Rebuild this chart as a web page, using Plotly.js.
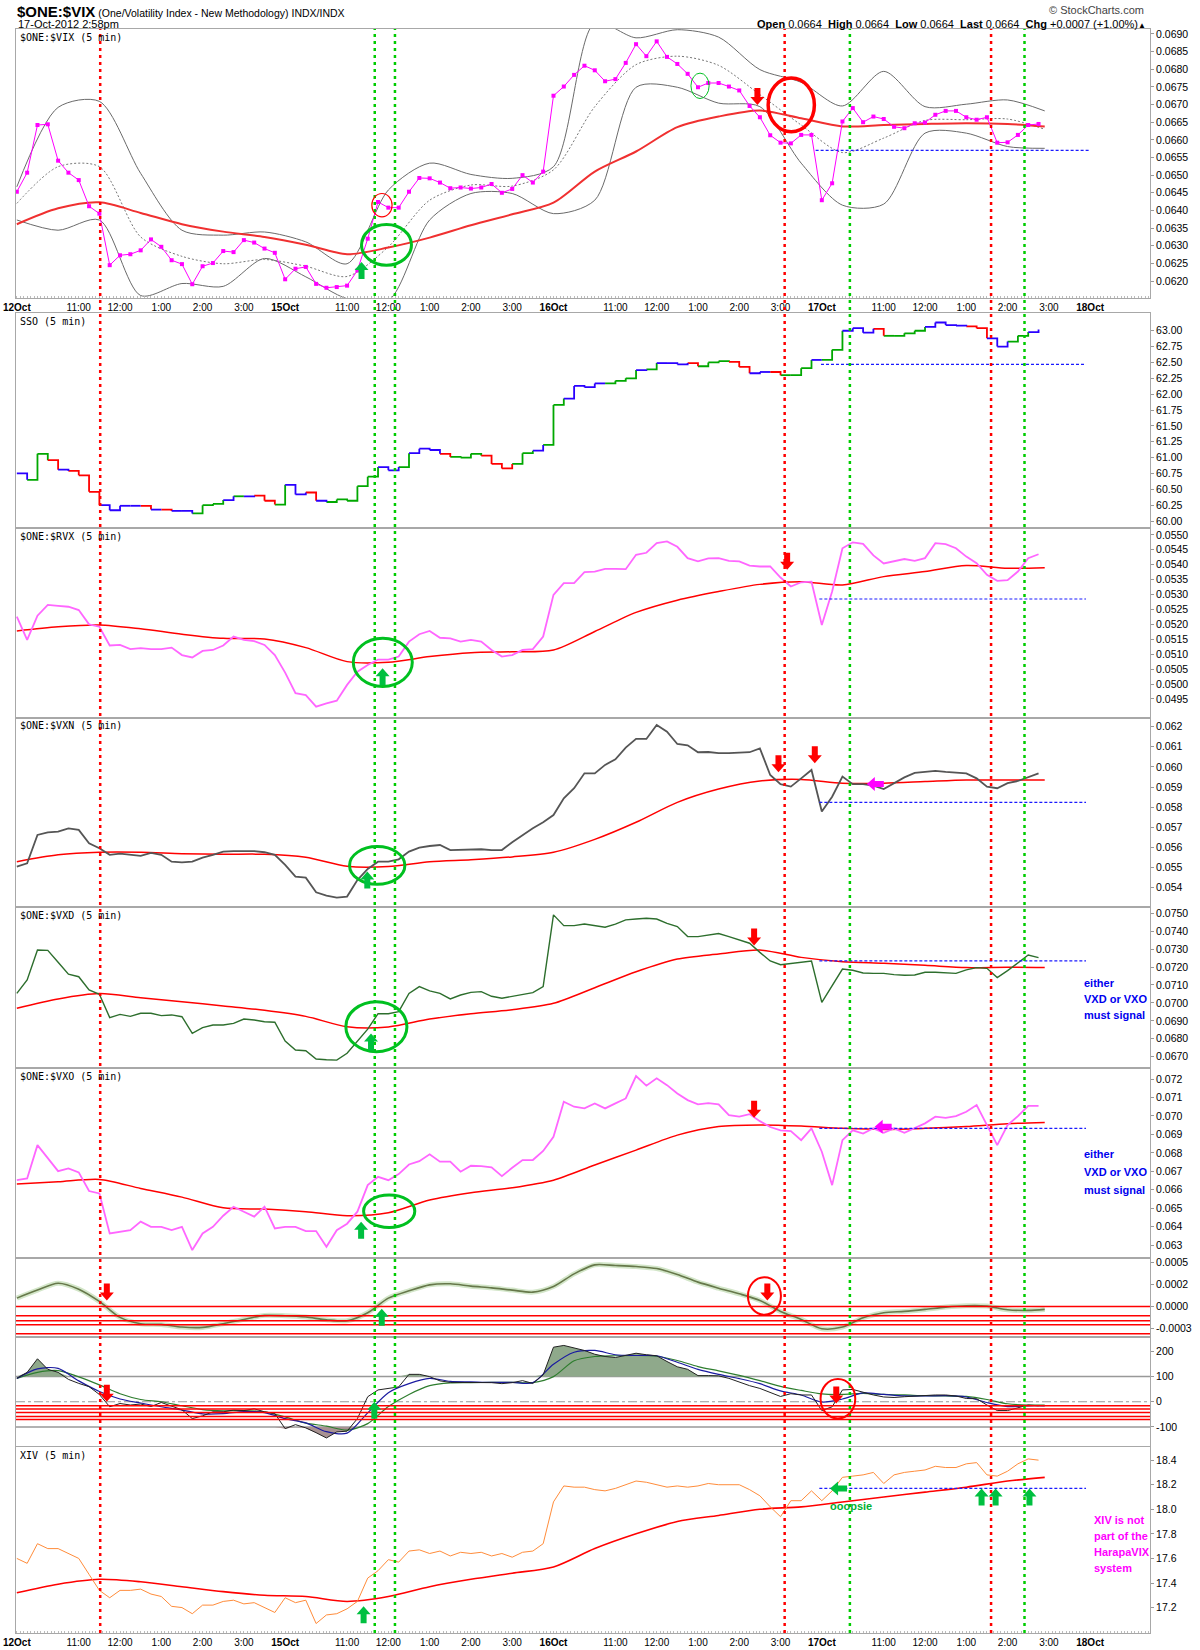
<!DOCTYPE html>
<html><head><meta charset="utf-8">
<script src="https://cdn.plot.ly/plotly-3.0.1.min.js"></script>
<style>html,body{margin:0;padding:0;background:#fff}</style>
</head><body><div id="chart" style="width:1200px;height:1650px"></div>
<script>
// ---------- DATA (time axis: trading hours since 12-Oct 9:30, 6.5 h per session) ----------
const VIX = [0.06453,0.06507,0.06642,0.06644,0.06541,0.06507,0.06486,0.06412,0.06391,0.06245,
 0.06273,0.06276,0.06287,0.06318,0.06297,0.06259,0.06248,0.06191,0.06242,0.06251,
 0.06285,0.06282,0.06316,0.06309,0.06292,0.06280,0.06205,0.06235,0.06240,0.06192,
 0.06181,0.06183,0.06187,0.06230,0.06320,0.06424,0.06408,0.06408,0.06453,0.06492,
 0.06491,0.06479,0.06463,0.06465,0.06462,0.06465,0.06475,0.06450,0.06461,0.06500,
 0.06479,0.06510,0.06725,0.06751,0.06784,0.06810,0.06797,0.06766,0.06772,0.06818,
 0.06871,0.06837,0.06879,0.06835,0.06815,0.06787,0.06749,0.06761,0.06761,0.06751,
 0.06740,0.06696,0.06664,0.06613,0.06592,0.06590,0.06614,0.06614,0.06429,0.06477,
 0.06652,0.06690,0.06650,0.06666,0.06659,0.06637,0.06633,0.06647,0.06649,0.06671,
 0.06682,0.06682,0.06664,0.06657,0.06664,0.06592,0.06593,0.06614,0.06642,0.06645];
const VIX_MA = [0.06361,0.06406,0.06423,0.06393,0.06361,0.06340,0.06325,0.06303,0.06276,0.06295,0.06323,0.06358,0.06389,0.06422,0.06510,0.06567,0.06636,0.06666,0.06683,0.06661,0.06638,0.06642,0.06645,0.06647,0.06645,0.06638];
const VIX_UPPER = [0.06467,0.06692,0.06709,0.06505,0.06344,0.06330,0.06339,0.06311,0.06249,0.06458,0.06534,0.06502,0.06491,0.06524,0.06931,0.06889,0.06912,0.06891,0.06799,0.06763,0.06696,0.06794,0.06694,0.06701,0.06713,0.06682];
const VIX_MID = [0.06420,0.06524,0.06524,0.06325,0.06270,0.06249,0.06261,0.06242,0.06213,0.06297,0.06429,0.06472,0.06469,0.06515,0.06694,0.06813,0.06837,0.06811,0.06728,0.06642,0.06564,0.06605,0.06655,0.06657,0.06659,0.06630];
const VIX_LOWER = [0.06373,0.06344,0.06373,0.06159,0.06193,0.06185,0.06264,0.06212,0.06150,0.06145,0.06373,0.06448,0.06448,0.06391,0.06429,0.06749,0.06749,0.06704,0.06694,0.06534,0.06415,0.06418,0.06619,0.06619,0.06581,0.06576];

const SSO = [60.75,60.65,61.06,60.96,60.81,60.79,60.72,60.46,60.25,60.17,
 60.24,60.24,60.24,60.18,60.18,60.16,60.16,60.12,60.25,60.27,
 60.33,60.39,60.39,60.40,60.32,60.26,60.57,60.42,60.45,60.32,
 60.30,60.34,60.32,60.55,60.70,60.85,60.80,60.85,61.07,61.14,
 61.12,61.06,61.01,61.00,61.06,61.03,60.90,60.83,60.90,61.07,
 61.11,61.20,61.83,61.93,62.13,62.11,62.17,62.17,62.21,62.25,
 62.38,62.39,62.49,62.49,62.47,62.49,62.44,62.50,62.52,62.51,
 62.43,62.33,62.35,62.35,62.30,62.30,62.41,62.54,62.54,62.70,
 63.00,63.04,62.97,63.03,62.92,62.92,62.96,63.00,63.06,63.13,
 63.09,63.08,63.07,63.04,62.88,62.75,62.83,62.92,62.98,63.02];
const SSO_CLASS = ("bbggrbrrrb"+"bbbrbrbbgg"+"gbgbrrgbbr"+"bgggggbbgb"+"bbrgggrrrg"+
 "gbggbbbbgg"+"gbgbbbrggg"+"rrbbrgggbg"+"gbbbrggggb"+"bbbrrbbggb").split("");

const RVX = [0.05226,0.05148,0.05229,0.05265,0.05262,0.05259,0.05248,0.05200,0.05192,0.05129,
 0.05131,0.05117,0.05120,0.05117,0.05117,0.05122,0.05097,0.05089,0.05111,0.05114,
 0.05129,0.05159,0.05148,0.05144,0.05131,0.05097,0.05038,0.04969,0.04963,0.04924,
 0.04935,0.04944,0.04997,0.05041,0.05064,0.05082,0.05082,0.05092,0.05142,0.05167,
 0.05178,0.05155,0.05153,0.05142,0.05148,0.05142,0.05114,0.05092,0.05097,0.05114,
 0.05117,0.05159,0.05299,0.05338,0.05338,0.05375,0.05377,0.05386,0.05386,0.05385,
 0.05433,0.05440,0.05472,0.05478,0.05460,0.05422,0.05411,0.05421,0.05422,0.05413,
 0.05411,0.05397,0.05394,0.05394,0.05357,0.05327,0.05341,0.05343,0.05198,0.05310,
 0.05455,0.05475,0.05470,0.05431,0.05404,0.05411,0.05419,0.05413,0.05422,0.05472,
 0.05469,0.05455,0.05427,0.05405,0.05366,0.05346,0.05348,0.05377,0.05422,0.05435];
const RVX_MA = [0.05178,0.05192,0.05198,0.05185,0.05167,0.05153,0.05151,0.05122,0.05075,0.05073,0.05092,0.05105,0.05108,0.05114,0.05176,0.05240,0.05281,0.05310,0.05334,0.05343,0.05332,0.05360,0.05377,0.05397,0.05388,0.05390];

const VXN = [0.05505,0.05521,0.05662,0.05675,0.05678,0.05695,0.05687,0.05621,0.05596,0.05563,
 0.05569,0.05563,0.05558,0.05573,0.05563,0.05529,0.05526,0.05529,0.05549,0.05563,
 0.05579,0.05582,0.05582,0.05582,0.05576,0.05563,0.05513,0.05455,0.05450,0.05377,
 0.05361,0.05351,0.05356,0.05438,0.05493,0.05529,0.05529,0.05541,0.05579,0.05599,
 0.05607,0.05612,0.05587,0.05589,0.05591,0.05591,0.05587,0.05587,0.05626,0.05662,
 0.05695,0.05725,0.05761,0.05844,0.05894,0.05968,0.05968,0.06010,0.06038,0.06096,
 0.06139,0.06139,0.06208,0.06175,0.06114,0.06107,0.06073,0.06074,0.06068,0.06068,
 0.06071,0.06073,0.06092,0.05960,0.05914,0.05902,0.05943,0.05985,0.05778,0.05852,
 0.05952,0.05914,0.05914,0.05907,0.05890,0.05919,0.05948,0.05970,0.05976,0.05980,
 0.05975,0.05973,0.05968,0.05943,0.05902,0.05894,0.05919,0.05930,0.05950,0.05968];
const VXN_MA = [0.05529,0.05563,0.05576,0.05576,0.05569,0.05566,0.05566,0.05551,0.05506,0.05505,0.05529,0.05539,0.05553,0.05576,0.05640,0.05725,0.05824,0.05890,0.05930,0.05938,0.05919,0.05919,0.05927,0.05935,0.05935,0.05935];

const VXD = [0.07053,0.07128,0.07295,0.07293,0.07227,0.07160,0.07146,0.07072,0.07048,0.06918,
 0.06936,0.06925,0.06942,0.06942,0.06929,0.06933,0.06923,0.06830,0.06862,0.06877,
 0.06877,0.06886,0.06910,0.06905,0.06895,0.06892,0.06787,0.06737,0.06733,0.06687,
 0.06683,0.06681,0.06719,0.06784,0.06854,0.06940,0.06940,0.06951,0.07053,0.07091,
 0.07067,0.07053,0.07022,0.07044,0.07059,0.07063,0.07037,0.07026,0.07035,0.07048,
 0.07057,0.07091,0.07491,0.07431,0.07431,0.07440,0.07431,0.07422,0.07439,0.07463,
 0.07468,0.07472,0.07468,0.07444,0.07426,0.07370,0.07370,0.07379,0.07387,0.07370,
 0.07351,0.07333,0.07282,0.07234,0.07213,0.07221,0.07230,0.07234,0.07003,0.07100,
 0.07189,0.07182,0.07167,0.07165,0.07165,0.07158,0.07154,0.07156,0.07171,0.07171,
 0.07167,0.07165,0.07184,0.07197,0.07193,0.07141,0.07180,0.07221,0.07267,0.07253];
const VXD_MA = [0.06970,0.07022,0.07052,0.07029,0.07007,0.06983,0.06959,0.06925,0.06867,0.06866,0.06910,0.06940,0.06962,0.06998,0.07085,0.07174,0.07245,0.07273,0.07295,0.07254,0.07230,0.07221,0.07210,0.07197,0.07199,0.07197];

const VXO = [0.06652,0.06661,0.06842,0.06770,0.06701,0.06716,0.06694,0.06593,0.06580,0.06363,
 0.06372,0.06381,0.06427,0.06399,0.06399,0.06381,0.06399,0.06273,0.06363,0.06399,
 0.06459,0.06508,0.06481,0.06454,0.06508,0.06390,0.06399,0.06399,0.06376,0.06376,
 0.06291,0.06381,0.06416,0.06481,0.06625,0.06670,0.06652,0.06685,0.06737,0.06755,
 0.06792,0.06752,0.06752,0.06698,0.06730,0.06728,0.06721,0.06674,0.06719,0.06761,
 0.06761,0.06810,0.06887,0.07077,0.07050,0.07041,0.07068,0.07041,0.07068,0.07095,
 0.07216,0.07164,0.07204,0.07167,0.07122,0.07086,0.07063,0.07070,0.07063,0.07005,
 0.06996,0.07010,0.06972,0.06940,0.06922,0.06918,0.06869,0.06933,0.06806,0.06625,
 0.06869,0.06922,0.06905,0.06933,0.06909,0.06933,0.06909,0.06936,0.06960,0.06996,
 0.06990,0.06999,0.07023,0.07059,0.06951,0.06842,0.06951,0.06999,0.07055,0.07055];
const VXO_MA = [0.06631,0.06643,0.06656,0.06607,0.06560,0.06502,0.06495,0.06481,0.06459,0.06475,0.06544,0.06584,0.06611,0.06652,0.06734,0.06815,0.06896,0.06943,0.06951,0.06945,0.06933,0.06927,0.06933,0.06943,0.06958,0.06965];

const OSC = [0.0000947,0.000186,0.000265,0.000197,0.0000568,-0.000125,-0.000197,-0.000205,-0.000235,-0.000239,
 -0.000197,-0.000148,-0.000102,-0.000106,-0.000121,-0.000152,-0.000163,-0.000072,0.0000947,0.000178,
 0.000246,0.000258,0.000231,0.000212,0.000186,0.000163,0.000227,0.000371,0.000474,0.000466,
 0.000455,0.000432,0.000364,0.000277,0.000208,0.000144,0.0000682,-0.0000568,-0.000148,-0.000254,
 -0.000235,-0.000129,-0.000072,-0.0000568,-0.0000341,-0.0000076,0.0000076,0.0000038,-0.0000379,-0.0000455,-0.0000341];

const HIST = [93,117,171,129,117,89,73,60,29,-20,
 -7,-13,-9,-19,-3,-16,-32,-67,-56,-40,
 -40,-33,-35,-28,-40,-47,-107,-91,-104,-123,
 -144,-120,-117,-67,20,47,52,59,109,109,
 100,83,77,77,76,76,76,72,76,84,
 73,107,217,224,213,204,189,180,176,183,
 193,187,183,160,139,129,104,104,103,93,
 77,64,53,36,21,32,27,27,-35,-20,
 47,49,37,27,19,17,20,23,24,27,
 27,23,13,12,-13,-35,-35,-23,-13,-16];
const HIST_FAST = [93,131,133,83,41,11,-5,-20,-33,-48,-47,-39,-43,-67,-84,-119,-125,-44,36,72,93,81,79,77,77,76,149,197,204,187,184,183,157,129,109,92,72,43,27,-1,11,35,29,23,23,24,19,-3,-19,-16,-16];
const HIST_SLOW = [93,117,124,99,67,32,9,0,-16,-31,-36,-35,-40,-60,-85,-97,-113,-87,-19,29,64,75,76,77,77,76,100,163,180,183,184,181,164,140,123,105,84,61,45,31,29,33,29,27,24,23,21,9,-8,-13,-13];

const XIV = [17.60,17.56,17.72,17.68,17.68,17.64,17.60,17.47,17.34,17.28,
 17.34,17.34,17.35,17.31,17.29,17.21,17.20,17.15,17.22,17.22,
 17.25,17.26,17.23,17.24,17.20,17.16,17.28,17.24,17.26,17.07,
 17.14,17.15,17.19,17.25,17.44,17.50,17.59,17.57,17.66,17.67,
 17.64,17.66,17.62,17.65,17.64,17.65,17.62,17.64,17.61,17.65,
 17.66,17.72,18.06,18.19,18.18,18.18,18.16,18.15,18.17,18.20,
 18.23,18.22,18.20,18.18,18.19,18.18,18.19,18.21,18.20,18.20,
 18.20,18.16,18.11,18.02,17.94,18.07,18.07,18.15,18.07,18.15,
 18.26,18.27,18.28,18.30,18.21,18.28,18.30,18.31,18.32,18.35,
 18.34,18.34,18.37,18.38,18.28,18.27,18.31,18.37,18.41,18.40];
const XIV_MA = [17.32,17.39,17.43,17.41,17.37,17.33,17.30,17.29,17.25,17.29,17.37,17.43,17.48,17.53,17.68,17.80,17.90,17.95,18.00,18.02,18.06,18.10,18.14,18.18,18.23,18.26];

// time grids (5-min bars sampled every 15 min; smooth lines hourly / half-hourly)
const T = VIX.map((_, i) => i * 0.25);
const HOURS = [0,1,2,3,4,5,6,7,8,9,10,11,12,13,14,15,16,17,18,19,20,21,22,23,24,24.9];
const HALF = Array.from({length: 50}, (_, i) => i * 0.5).concat([24.9]);

// x tick labels
const X_TICKS = [0,1.5,2.5,3.5,4.5,5.5,6.5,8,9,10,11,12,13,14.5,15.5,16.5,17.5,18.5,19.5,21,22,23,24,25,26];
const X_LABELS = ['12Oct','11:00','12:00','1:00','2:00','3:00','15Oct','11:00','12:00','1:00','2:00','3:00',
 '16Oct','11:00','12:00','1:00','2:00','3:00','17Oct','11:00','12:00','1:00','2:00','3:00','18Oct'];

// signal lines (times)
const RED_SIGNALS = [2.02, 18.60, 23.60];
const GREEN_SIGNALS = [8.67, 9.16, 20.18, 24.41];

// header quote
const QUOTE = {open: '0.0664', high: '0.0664', low: '0.0664', last: '0.0664', chg: '+0.0007', pct: '+1.00%'};

// annotation marks: [panel, x0, x1, y0, y1, kind]
const RINGS = [
 [1, 8.60, 9.09, 0.06382, 0.06448, 'r1'], [1, 8.35, 9.56, 0.06245, 0.06360, 'g'],
 [1, 16.33, 16.77, 0.06717, 0.06789, 'g1'], [1, 18.20, 19.32, 0.06623, 0.06775, 'R'],
 [3, 8.15, 9.58, 0.04992, 0.05153, 'g'], [4, 8.06, 9.40, 0.05417, 0.05604, 'g'],
 [5, 7.97, 9.45, 0.06728, 0.07007, 'g'], [6, 8.40, 9.64, 0.06396, 0.06571, 'g'],
 [7, 17.71, 18.51, -0.0000947, 0.000333, 'r'], [8, 19.47, 20.31, -66.7, 90.7, 'r']];
// arrows: [panel, x, y(tip), direction, colour key]
const ARROWS = [
 [1, 8.35, 0.06254, 'up', 'g'], [1, 17.94, 0.06699, 'down', 'r'],
 [3, 8.86, 0.05053, 'up', 'g'], [3, 18.66, 0.05383, 'down', 'r'],
 [4, 8.49, 0.05480, 'up', 'g'], [4, 18.45, 0.05973, 'down', 'r'], [4, 19.33, 0.06018, 'down', 'r'], [4, 20.59, 0.05915, 'left', 'm'],
 [5, 8.58, 0.06830, 'up', 'g'], [5, 17.86, 0.07320, 'down', 'r'],
 [6, 8.34, 0.06427, 'up', 'g'], [6, 17.86, 0.06990, 'down', 'r'], [6, 20.78, 0.06942, 'left', 'm'],
 [7, 2.18, 0.0000682, 'down', 'r'], [7, 8.84, -0.0000265, 'up', 'g'], [7, 18.18, 0.0000682, 'down', 'r'],
 [8, 2.18, 0, 'down', 'r'], [8, 8.66, 0, 'up', 'g'], [8, 19.85, -6.7, 'down', 'r'],
 [9, 8.40, 17.21, 'up', 'g'], [9, 19.70, 18.17, 'left', 'g'], [9, 23.37, 18.17, 'up', 'g'], [9, 23.71, 18.17, 'up', 'g'], [9, 24.53, 18.17, 'up', 'g']];
// support levels: [panel, level, from, to]
const LEVELS = [[1, 0.06570, 19.35, 25.98], [2, 62.47, 19.48, 25.9], [3, 0.05285, 19.44, 25.9],
 [4, 0.05824, 19.44, 25.9], [5, 0.07234, 19.44, 25.9], [6, 0.06933, 19.44, 25.9], [9, 18.17, 19.44, 25.9]];
const OSC_BANDS = [0, -0.000106, -0.000163, -0.000208, -0.000311];
const HIST_BANDS = [-16, -29, -43, -59, -71];

// ---------- LAYOUT ----------
const W = 1200, H = 1650;
const PX_L = 16, PX_R = 1150;
const FONT = 'Liberation Sans, Arial, sans-serif';
function ticksRange(a, b, n, dec, scale) { const v = []; for (let i = a; i <= b; i += n) v.push(i / scale); return {vals: v, text: v.map(x => x.toFixed(dec))}; }
const PANELS = [
 {top: 29, bot: 298, range: [0.06152, 0.06914], t: ticksRange(620, 690, 5, 4, 10000), label: '$ONE:$VIX (5 min)'},
 {top: 313, bot: 528, range: [59.89, 63.28], t: ticksRange(6000, 6300, 25, 2, 100), label: 'SSO (5 min)'},
 {top: 528, bot: 718, range: [0.04886, 0.05523], t: ticksRange(495, 550, 5, 4, 10000), label: '$ONE:$RVX (5 min)'},
 {top: 718, bot: 907, range: [0.05304, 0.06243], t: ticksRange(54, 62, 1, 3, 1000), label: '$ONE:$VXN (5 min)'},
 {top: 907, bot: 1068, range: [0.06637, 0.07535], t: ticksRange(67, 75, 1, 4, 1000), label: '$ONE:$VXD (5 min)'},
 {top: 1068, bot: 1258, range: [0.06230, 0.07260], t: ticksRange(63, 72, 1, 3, 1000), label: '$ONE:$VXO (5 min)'},
 {top: 1258, bot: 1336, range: [-0.000337, 0.000552], t: {vals: [-0.00025, 0, 0.00025, 0.0005], text: ['-0.0003', '0.0000', '0.0002', '0.0005']}, label: ''},
 {top: 1338, bot: 1446, range: [-176, 253.6], t: {vals: [-100, 0, 100, 200], text: ['-100', '0', '100', '200']}, label: ''},
 {top: 1447, bot: 1633, range: [16.993, 18.507], t: ticksRange(172, 184, 2, 1, 10), label: 'XIV (5 min)'}
];
const ax = k => (k === 1 ? '' : String(k));

const layout = {
 width: W, height: H, margin: {l: 0, r: 0, t: 0, b: 0},
 paper_bgcolor: '#fff', plot_bgcolor: '#fff', showlegend: false,
 shapes: [], annotations: [], font: {family: FONT, size: 10, color: '#000'}
};
PANELS.forEach((p, idx) => {
 const k = idx + 1;
 const showX = (k === 1 || k === 9);
 layout['xaxis' + ax(k)] = {
  domain: [PX_L / W, PX_R / W], range: [-0.02, 27.45], anchor: 'y' + ax(k),
  matches: k === 1 ? undefined : 'x', showgrid: false, zeroline: false,
  showline: true, mirror: true, linecolor: '#a8a8a8', linewidth: 1,
  tickmode: 'array', tickvals: X_TICKS,
  ticktext: X_LABELS.map(s => s.endsWith('Oct') ? '<b>' + s + '</b>' : s),
  showticklabels: showX, ticks: '', ticklen: 0,
  tickfont: {family: FONT, size: 10, color: '#000'},
  minor: showX ? {ticks: 'inside', dtick: 1 / 12, tick0: 0, ticklen: 2, tickcolor: '#bbb'} : undefined
 };
 layout['yaxis' + ax(k)] = {
  domain: [1 - p.bot / H, 1 - p.top / H], range: p.range, anchor: 'x' + ax(k), side: 'right',
  showgrid: false, zeroline: false, showline: true, mirror: true, linecolor: '#a8a8a8', linewidth: 1,
  tickmode: 'array', tickvals: p.t.vals, ticktext: p.t.text, ticks: 'outside', ticklen: 3, tickcolor: '#999',
  tickfont: {family: FONT, size: 10.5, color: '#000'}
 };
 if (p.label) layout.annotations.push({xref: 'paper', yref: 'paper', x: 18 / W, y: 1 - (p.top + 8) / H,
  xanchor: 'left', yanchor: 'middle', showarrow: false, text: p.label,
  font: {family: 'DejaVu Sans Mono, monospace', size: 10, color: '#000'}});
});

// ---------- TRACES ----------
const traces = [];
function add(k, x, y, color, width, extra) {
 traces.push(Object.assign({type: 'scatter', mode: 'lines', x: x, y: y, xaxis: 'x' + ax(k), yaxis: 'y' + ax(k),
  line: {color: color, width: width}, hoverinfo: 'skip', cliponaxis: true}, extra || {}));
}
const smooth = {shape: 'spline', smoothing: 0.8};
// 1 VIX
add(1, HOURS, VIX_UPPER, '#6a6a6a', 1, {line: Object.assign({color: '#6a6a6a', width: 1}, smooth)});
add(1, HOURS, VIX_LOWER, '#6a6a6a', 1, {line: Object.assign({color: '#6a6a6a', width: 1}, smooth)});
add(1, HOURS, VIX_MID, '#777', 1, {line: Object.assign({color: '#777', width: 1, dash: '2px,2px'}, smooth)});
add(1, HOURS, VIX_MA, '#f03030', 2, {line: Object.assign({color: '#f03030', width: 2}, smooth)});
add(1, T, VIX, '#ff00ff', 1, {mode: 'lines+markers', marker: {symbol: 'square', size: 4, color: '#ff00ff'}});
// 2 SSO, bars coloured by class
const SSO_COLORS = {g: '#00a800', r: '#ff0000', b: '#2a00ff'};
Object.keys(SSO_COLORS).forEach(c => {
 const xs = [], ys = [];
 for (let i = 1; i < SSO.length; i++) if (SSO_CLASS[i] === c) { xs.push(T[i - 1], T[i], null); ys.push(SSO[i - 1], SSO[i], null); }
 add(2, xs, ys, SSO_COLORS[c], 1.8, {line: {color: SSO_COLORS[c], width: 1.8, shape: 'hv'}, connectgaps: false});
});
// 3 RVX
add(3, HOURS, RVX_MA, '#ff0000', 1.5, {line: Object.assign({color: '#ff0000', width: 1.5}, smooth)});
add(3, T, RVX, '#ff66ff', 1.8);
// 4 VXN
add(4, HOURS, VXN_MA, '#ff0000', 1.5, {line: Object.assign({color: '#ff0000', width: 1.5}, smooth)});
add(4, T, VXN, '#555555', 1.8);
// 5 VXD
add(5, HOURS, VXD_MA, '#ff0000', 1.5, {line: Object.assign({color: '#ff0000', width: 1.5}, smooth)});
add(5, T, VXD, '#2d6e2d', 1.4);
// 6 VXO
add(6, HOURS, VXO_MA, '#ff0000', 1.5, {line: Object.assign({color: '#ff0000', width: 1.5}, smooth)});
add(6, T, VXO, '#ff66ff', 1.8);
// 7 oscillator
add(7, HALF, OSC, '#d3e6c9', 5, {line: Object.assign({color: '#d3e6c9', width: 5}, smooth)});
add(7, HALF, OSC, '#66784a', 1.6, {line: Object.assign({color: '#66784a', width: 1.6}, smooth)});
// 8 histogram-style oscillator with shaded extremes
add(8, T, T.map(() => 100), 'rgba(0,0,0,0)', 0);
add(8, T, HIST.map(v => Math.max(v, 100)), 'rgba(0,0,0,0)', 0, {fill: 'tonexty', fillcolor: '#8fa98b'});
add(8, T, T.map(() => -100), 'rgba(0,0,0,0)', 0);
add(8, T, HIST.map(v => Math.min(v, -100)), 'rgba(0,0,0,0)', 0, {fill: 'tonexty', fillcolor: '#a89292'});
add(8, HALF, HIST_SLOW, '#2e7d2e', 1.2, {line: Object.assign({color: '#2e7d2e', width: 1.2}, smooth)});
add(8, HALF, HIST_FAST, '#1a1aa0', 1.2, {line: Object.assign({color: '#1a1aa0', width: 1.2}, smooth)});
add(8, T, HIST, '#222', 1);
// 9 XIV
add(9, HOURS, XIV_MA, '#ff0000', 1.6, {line: Object.assign({color: '#ff0000', width: 1.6}, smooth)});
add(9, T, XIV, '#ff8c3a', 1);

// ---------- SHAPES ----------
const S = layout.shapes;
OSC_BANDS.forEach(v => S.push({type: 'line', xref: 'x7 domain', yref: 'y7', x0: 0, x1: 1, y0: v, y1: v, line: {color: '#ff0000', width: 1.5}}));
HIST_BANDS.forEach(v => S.push({type: 'line', xref: 'x8 domain', yref: 'y8', x0: 0, x1: 1, y0: v, y1: v, line: {color: '#ff0000', width: 1.5}}));
[100, -100].forEach(v => S.push({type: 'line', xref: 'x8 domain', yref: 'y8', x0: 0, x1: 1, y0: v, y1: v, line: {color: '#999', width: 1.5}, layer: 'below'}));
S.push({type: 'line', xref: 'x8 domain', yref: 'y8', x0: 0, x1: 1, y0: 0, y1: 0, line: {color: '#999', width: 1, dash: 'dashdot'}, layer: 'below'});
LEVELS.forEach(([k, v, a, b]) => S.push({type: 'line', xref: 'x' + ax(k), yref: 'y' + ax(k), x0: a, x1: b, y0: v, y1: v, line: {color: '#1a1aff', width: 1.2, dash: '3px,2px'}}));
const yTop = 1 - 29 / H, yBot = 1 - 1633 / H;
RED_SIGNALS.forEach(h => S.push({type: 'line', xref: 'x', yref: 'paper', x0: h, x1: h, y0: yBot, y1: yTop, line: {color: '#ff0000', width: 2.5, dash: '3px,4px'}}));
GREEN_SIGNALS.forEach(h => S.push({type: 'line', xref: 'x', yref: 'paper', x0: h, x1: h, y0: yBot, y1: yTop, line: {color: '#00cc00', width: 2.5, dash: '3px,4px'}}));
const RING_STYLE = {g: ['#00c020', 3], g1: ['#00c020', 1], r: ['#ff0000', 2], r1: ['#ff0000', 1.2], R: ['#ff0000', 3.5]};
RINGS.forEach(([k, x0, x1, y0, y1, kind]) => S.push({type: 'circle', xref: 'x' + ax(k), yref: 'y' + ax(k), x0, x1, y0, y1,
 line: {color: RING_STYLE[kind][0], width: RING_STYLE[kind][1]}, fillcolor: 'rgba(0,0,0,0)'}));
const ARROW_PATH = {
 down: 'M0,0 L-7,8 L-3,8 L-3,17 L3,17 L3,8 L7,8 Z',
 up: 'M0,0 L-7,-8 L-3,-8 L-3,-17 L3,-17 L3,-8 L7,-8 Z',
 left: 'M0,0 L8,7 L8,3 L17,3 L17,-3 L8,-3 L8,-7 Z'
};
const ARROW_COL = {g: '#00c040', r: '#ff0000', m: '#ff00ff'};
ARROWS.forEach(([k, x, y, dir, c]) => S.push({type: 'path', xref: 'x' + ax(k), yref: 'y' + ax(k),
 xsizemode: 'pixel', ysizemode: 'pixel', xanchor: x, yanchor: y, path: ARROW_PATH[dir],
 fillcolor: ARROW_COL[c], line: {width: 0}}));

// ---------- TEXT ----------
const A = layout.annotations;
function txt(x, y, text, size, color, anchor, family, xref, yref) {
 A.push({xref: xref || 'paper', yref: yref || 'paper', x: x, y: y, text: text, showarrow: false,
  xanchor: anchor || 'left', yanchor: 'middle', font: {family: family || FONT, size: size, color: color || '#000'}});
}
txt(15 / W, 1 - 11 / H, '<span style="font-size:15px"><b>$ONE:$VIX</b></span> (One/Volatility Index - New Methodology) INDX/INDX', 10.5, '#000', 'left');
txt(16 / W, 1 - 24 / H, '17-Oct-2012 2:58pm', 11, '#000', 'left');
txt(1146 / W, 1 - 10 / H, '© StockCharts.com', 11, '#444', 'right');
txt(1148 / W, 1 - 24 / H, '<b>Open</b> ' + QUOTE.open + '  <b>High</b> ' + QUOTE.high + '  <b>Low</b> ' + QUOTE.low +
 '  <b>Last</b> ' + QUOTE.last + '  <b>Chg</b> ' + QUOTE.chg + ' (' + QUOTE.pct + ')<span style="font-size:8px">▲</span>', 11, '#000', 'right');
['either', 'VXD or VXO', 'must signal'].forEach((s, i) => {
 txt(25.8, 0.0711 - i * 0.00088, '<b>' + s + '</b>', 11, '#0000ee', 'left', FONT, 'x5', 'y5');
 txt(25.8, 0.06795 - i * 0.00098, '<b>' + s + '</b>', 11, '#0000ee', 'left', FONT, 'x6', 'y6');
});
['XIV is not', 'part of the', 'HarapaVIX', 'system'].forEach((s, i) =>
 txt(26.05, 17.91 - i * 0.128, '<b>' + s + '</b>', 11, '#ff00ff', 'left', FONT, 'x9', 'y9'));
txt(20.2, 18.03, '<b>ooopsie</b>', 11, '#00b030', 'center', FONT, 'x9', 'y9');

Plotly.newPlot('chart', traces, layout, {staticPlot: true, displayModeBar: false});
</script></body></html>
